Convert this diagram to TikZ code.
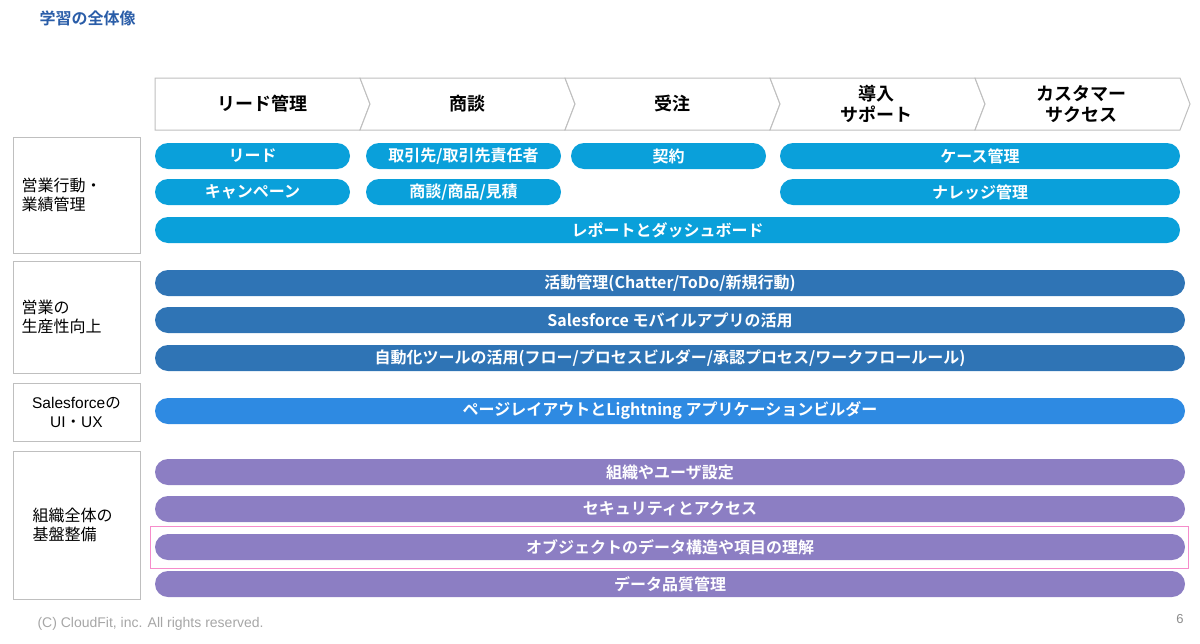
\documentclass[tikz,border=0pt]{standalone}
\usepackage{fontspec}
\setmainfont{Noto Sans CJK JP}
\newfontfamily\jpb{Noto Sans CJK JP Bold}
\newfontfamily\lat{Liberation Sans}
\definecolor{cyanp}{HTML}{0AA0DA}
\definecolor{darkp}{HTML}{2F74B5}
\definecolor{bluep}{HTML}{2E8AE2}
\definecolor{purp}{HTML}{8C7EC3}
\definecolor{titleb}{HTML}{2A5DA8}
\begin{document}
\begin{tikzpicture}[x=1pt,y=-1pt,
  pill/.style={rounded corners=13pt,draw=none},
  ptxt/.style={text=white,font=\jpb\fontsize{16}{16}\selectfont},
  lbox/.style={draw=black!25,line width=1pt},
  ltxt/.style={font=\fontsize{16}{19}\selectfont,align=left,anchor=west},
  chev/.style={draw=black!25,line width=1pt,fill=white},
  htxt/.style={font=\jpb\fontsize{18}{21}\selectfont,align=center}]
\useasboundingbox (0,0) rectangle (1200,643);
\node[anchor=west,text=titleb,font=\jpb\fontsize{16}{16}\selectfont] (title) at (36,18) {学習の全体像};
% chevrons
\draw[chev] (155,78) -- (360,78) -- (370,104) -- (360,130) -- (155,130) -- cycle;
\foreach \a in {360,565,770,975}{
  \draw[chev] (\a,78) -- (\a+205,78) -- (\a+215,104) -- (\a+205,130) -- (\a,130) -- (\a+10,104) -- cycle;}
\node[htxt] (h1) at (262,104) {リード管理};
\node[htxt] (h2) at (467,104) {商談};
\node[htxt] (h3) at (672,104) {受注};
\node[htxt] (h4) at (876,104) {導入\\サポート};
\node[htxt] (h5) at (1081,104) {カスタマー\\サクセス};
% left boxes
\draw[lbox] (13,137) rectangle (140,253);
\draw[lbox] (13,261) rectangle (140,373);
\draw[lbox] (13,383) rectangle (140,441);
\draw[lbox] (13,451) rectangle (140,599);
\node[ltxt] (l1) at (18,195) {営業行動・\\業績管理};
\node[ltxt] (l2) at (18,317) {営業の\\生産性向上};
\node[font=\fontsize{15.5}{19}\selectfont,align=center] (l3) at (76.5,412) {{\lat Salesforce}の\\{\lat UI}・{\lat UX}};
\node[ltxt] (l4) at (29,525) {組織全体の\\基盤整備};
% pills
\newcommand\pl[6]{\fill[pill,#1] (#2,#3) rectangle (#4,#3+26);
  \node[ptxt] at ({(#2+#4)/2},#3+13) {#5};}
\pl{cyanp}{155}{143}{350}{リード}{}
\pl{cyanp}{366}{143}{561}{取引先/取引先責任者}{}
\pl{cyanp}{571}{143}{766}{契約}{}
\pl{cyanp}{780}{143}{1180}{ケース管理}{}
\pl{cyanp}{155}{179}{350}{キャンペーン}{}
\pl{cyanp}{366}{179}{561}{商談/商品/見積}{}
\pl{cyanp}{780}{179}{1180}{ナレッジ管理}{}
\pl{cyanp}{155}{217}{1180}{レポートとダッシュボード}{}
\pl{darkp}{155}{270}{1185}{活動管理(Chatter/ToDo/新規行動)}{}
\pl{darkp}{155}{307}{1185}{Salesforce モバイルアプリの活用}{}
\pl{darkp}{155}{345}{1185}{自動化ツールの活用(フロー/プロセスビルダー/承認プロセス/ワークフロールール)}{}
\pl{bluep}{155}{398}{1185}{ページレイアウトとLightning アプリケーションビルダー}{}
\pl{purp}{155}{459}{1185}{組織やユーザ設定}{}
\pl{purp}{155}{496}{1185}{セキュリティとアクセス}{}
\pl{purp}{155}{534}{1185}{オブジェクトのデータ構造や項目の理解}{}
\pl{purp}{155}{571}{1185}{データ品質管理}{}
\draw[magenta!45,line width=1pt] (150,526) rectangle (1188,568);
\node[anchor=west,text=black!35,font=\lat\fontsize{14}{14}\selectfont] (foot) at (34,624) {(C) CloudFit, inc. All rights reserved.};
\node[text=black!45,font=\lat\fontsize{13}{13}\selectfont] (pg) at (1180,619) {6};
\end{tikzpicture}
\end{document}
